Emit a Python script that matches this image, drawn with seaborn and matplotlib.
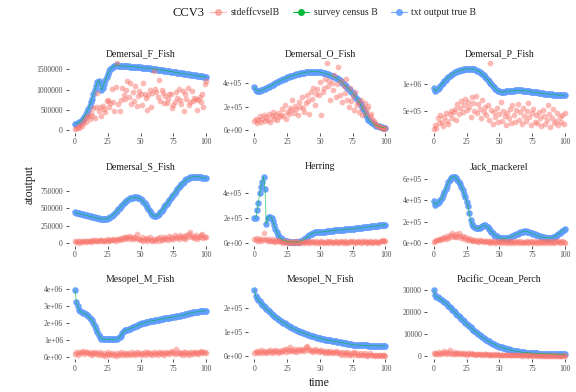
import numpy as np
import pandas as pd
import matplotlib
matplotlib.use("Agg")
import matplotlib.pyplot as plt
from matplotlib.lines import Line2D
import seaborn as sns

# ── Data (values in the panel's own unit) ───────────────────────────────────
time = np.arange(0, 101)

species = ["Demersal_F_Fish", "Demersal_O_Fish", "Demersal_P_Fish",
           "Demersal_S_Fish", "Herring", "Jack_mackerel",
           "Mesopel_M_Fish", "Mesopel_N_Fish", "Pacific_Ocean_Perch"]

unit = {"Demersal_F_Fish": 1e5, "Demersal_O_Fish": 1e4, "Demersal_P_Fish": 1e5,
        "Demersal_S_Fish": 1e4, "Herring": 1e4, "Jack_mackerel": 1e4,
        "Mesopel_M_Fish": 1e5, "Mesopel_N_Fish": 1e4, "Pacific_Ocean_Perch": 1e3}

# txt output true B (survey census B follows the same values)
true_f = [1.5, 1.6, 1.7, 1.9, 2.1, 2.4, 2.8, 3.3, 3.9, 4.5,
          5.2, 6.0, 6.9, 7.8, 8.8, 9.8, 10.8, 11.8, 12.2, 11.6,
          10.0, 10.4, 11.4, 12.4, 13.2, 13.9, 14.5, 15.0, 15.4, 15.7,
          15.9, 16.0, 16.0, 15.95, 15.9, 15.9, 15.85, 15.85, 15.8, 15.8,
          15.75, 15.75, 15.7, 15.7, 15.65, 15.65, 15.6, 15.6, 15.55, 15.5,
          15.5, 15.45, 15.4, 15.4, 15.35, 15.3, 15.3, 15.25, 15.2, 15.15,
          15.1, 15.05, 15.0, 14.95, 14.9, 14.85, 14.8, 14.75, 14.7, 14.65,
          14.6, 14.55, 14.5, 14.45, 14.4, 14.35, 14.3, 14.25, 14.2, 14.15,
          14.1, 14.05, 14.0, 13.95, 13.9, 13.85, 13.8, 13.75, 13.7, 13.65,
          13.6, 13.55, 13.5, 13.45, 13.4, 13.35, 13.3, 13.25, 13.2, 13.15,
          13.1]
true_o = [37, 34.5, 33.8, 33.6, 33.7, 34.0, 34.4, 34.9, 35.4, 35.9,
          36.5, 37.1, 37.7, 38.3, 38.9, 39.5, 40.1, 40.7, 41.3, 41.9,
          42.5, 43.0, 43.5, 44.0, 44.5, 45.0, 45.4, 45.8, 46.2, 46.6,
          47.0, 47.3, 47.6, 47.9, 48.2, 48.5, 48.7, 48.9, 49.1, 49.3,
          49.5, 49.6, 49.7, 49.8, 49.9, 50.0, 50.0, 49.9, 49.8, 49.7,
          49.5, 49.3, 49.0, 48.7, 48.4, 48.0, 47.6, 47.2, 46.8, 46.4,
          46.0, 45.4, 44.8, 44.1, 43.3, 42.5, 41.6, 40.6, 39.6, 38.6,
          37.5, 36.4, 35.2, 34.0, 32.8, 31.5, 30.1, 28.6, 27.1, 25.6,
          24.0, 22.2, 20.2, 18.0, 15.6, 13.2, 11.0, 9.2, 7.8, 6.8,
          6.0, 5.3, 4.7, 4.2, 3.8, 3.4, 3.1, 2.8, 2.5, 2.3,
          2.1]
true_p = [9.2, 8.7, 8.8, 9.0, 9.3, 9.6, 9.9, 10.2, 10.5, 10.8,
          11.0, 11.2, 11.4, 11.6, 11.8, 11.95, 12.1, 12.2, 12.3, 12.4,
          12.5, 12.55, 12.6, 12.65, 12.7, 12.75, 12.75, 12.8, 12.8, 12.75,
          12.7, 12.65, 12.55, 12.45, 12.35, 12.2, 12.05, 11.85, 11.6, 11.35,
          11.1, 10.8, 10.5, 10.2, 9.9, 9.6, 9.35, 9.1, 8.9, 8.7,
          8.6, 8.5, 8.5, 8.5, 8.55, 8.6, 8.6, 8.65, 8.7, 8.7,
          8.75, 8.75, 8.8, 8.8, 8.8, 8.8, 8.8, 8.8, 8.75, 8.75,
          8.7, 8.7, 8.65, 8.6, 8.55, 8.5, 8.5, 8.45, 8.4, 8.4,
          8.35, 8.3, 8.3, 8.25, 8.2, 8.2, 8.15, 8.1, 8.1, 8.05,
          8.05, 8.0, 8.0, 7.95, 7.95, 7.9, 7.9, 7.9, 7.85, 7.85,
          7.85]
true_s = [44, 43.5, 43, 42.5, 42, 41.5, 41, 40.5, 40, 39.5,
          39, 38.5, 38, 37.5, 37, 36.6, 36.2, 35.8, 35.4, 35.1,
          34.8, 34.6, 34.5, 34.6, 34.9, 35.5, 36.4, 37.6, 39.0, 40.5,
          42.2, 44.0, 46.0, 48.2, 50.5, 52.8, 55.0, 57.0, 58.8, 60.4,
          61.8, 63.0, 64.0, 64.8, 65.3, 65.6, 65.6, 65.4, 65.0, 64.2,
          63.0, 61.4, 59.4, 57.0, 54.4, 51.6, 48.6, 45.6, 42.8, 40.4,
          38.8, 38.2, 38.6, 39.8, 41.6, 43.8, 46.2, 48.8, 51.4, 54.0,
          56.6, 59.2, 61.8, 64.4, 67.0, 69.6, 72.2, 74.8, 77.4, 80.0,
          82.4, 84.6, 86.6, 88.4, 90.0, 91.4, 92.6, 93.6, 94.4, 95.0,
          95.4, 95.6, 95.6, 95.4, 95.1, 94.7, 94.3, 94.0, 93.8, 93.6,
          93.5]
true_h = [20, 20, 26, 32, 40, 45, 49, 53, 43, 15,
          20, 21, 21, 20, 18, 14.5, 11.5, 8.8, 6.6, 5.0,
          3.8, 3.0, 2.4, 2.0, 1.7, 1.4, 1.2, 1.0, 0.9, 0.8,
          0.8, 0.8, 0.9, 1.0, 1.2, 1.5, 1.9, 2.4, 3.0, 3.7,
          4.5, 5.3, 6.1, 6.9, 7.6, 8.2, 8.6, 8.8, 8.8, 8.8,
          8.8, 8.9, 9.0, 9.1, 9.2, 9.3, 9.5, 9.6, 9.8, 9.9,
          10.0, 10.1, 10.2, 10.3, 10.4, 10.5, 10.6, 10.7, 10.8, 10.9,
          11.0, 11.1, 11.2, 11.3, 11.4, 11.5, 11.6, 11.8, 11.9, 12.0,
          12.1, 12.2, 12.4, 12.5, 12.6, 12.8, 12.9, 13.0, 13.2, 13.3,
          13.4, 13.6, 13.7, 13.8, 14.0, 14.1, 14.2, 14.4, 14.5, 14.6,
          14.7]
true_j = [39.6, 36, 36.5, 37.5, 39, 40.5, 42.5, 45, 48, 51,
          54, 57, 59.5, 61.3, 62.3, 62.5, 62, 61, 59.5, 57.6,
          55.4, 52.8, 49.8, 46.5, 42.8, 39, 34.5, 28, 22, 18,
          16, 15, 14, 13.8, 14, 14.6, 15.4, 16.2, 16.6, 16.5,
          16, 15, 13.6, 12, 10.5, 9.2, 8, 7, 6.2, 5.6,
          5.1, 4.8, 4.6, 4.5, 4.5, 4.6, 4.8, 5.1, 5.5, 6.0,
          6.5, 7.1, 7.7, 8.3, 8.9, 9.5, 10.0, 10.4, 10.8, 11.0,
          11.0, 10.8, 10.5, 10.1, 9.6, 9.1, 8.6, 8.1, 7.6, 7.1,
          6.7, 6.3, 5.9, 5.6, 5.3, 5.1, 4.9, 4.8, 4.8, 4.9,
          5.1, 5.5, 6.1, 6.8, 7.6, 8.5, 9.5, 10.5, 11.5, 12.4,
          13.2]
true_m = [39.4, 32, 29.8, 27.6, 26.8, 26.2, 25.8, 25.5, 25.3, 24.8,
          23.7, 23.0, 22.3, 21.4, 20.0, 17.8, 16.0, 14.5, 13.0, 11.5,
          10.6, 10.3, 10.2, 10.2, 10.2, 10.2, 10.2, 10.2, 10.2, 10.2,
          10.2, 10.3, 10.5, 10.9, 11.5, 12.4, 13.7, 14.9, 15.4, 15.7,
          15.9, 16.2, 16.5, 16.8, 17.2, 17.6, 17.9, 18.3, 18.6, 19.0,
          19.4, 19.6, 19.8, 20.0, 20.2, 20.4, 20.6, 20.8, 21.0, 21.1,
          21.2, 21.4, 21.5, 21.7, 21.8, 22.0, 22.1, 22.3, 22.5, 22.6,
          22.8, 22.9, 23.0, 23.1, 23.2, 23.3, 23.5, 23.7, 23.9, 24.0,
          24.2, 24.4, 24.5, 24.7, 24.9, 25.1, 25.3, 25.5, 25.7, 25.9,
          26.1, 26.2, 26.3, 26.4, 26.5, 26.6, 26.7, 26.8, 26.9, 27.0,
          27.1]
true_n = [27.6, 24.8, 24.1, 23.4, 22.7, 22.0, 21.4, 20.8, 20.2, 19.6,
          19.1, 18.6, 18.1, 17.6, 17.1, 16.7, 16.2, 15.8, 15.4, 15.0,
          14.6, 14.2, 13.9, 13.5, 13.2, 12.8, 12.5, 12.2, 11.9, 11.6,
          11.3, 11.0, 10.8, 10.5, 10.3, 10.0, 9.8, 9.6, 9.4, 9.2,
          9.0, 8.8, 8.6, 8.4, 8.2, 8.1, 7.9, 7.8, 7.6, 7.5,
          7.3, 7.2, 7.1, 6.9, 6.8, 6.7, 6.6, 6.5, 6.4, 6.3,
          6.2, 6.1, 6.0, 5.9, 5.8, 5.7, 5.6, 5.5, 5.4, 5.3,
          5.2, 5.1, 5.0, 4.9, 4.8, 4.7, 4.6, 4.5, 4.5, 4.5,
          4.4, 4.4, 4.4, 4.3, 4.3, 4.3, 4.3, 4.2, 4.2, 4.2,
          4.2, 4.2, 4.2, 4.2, 4.1, 4.1, 4.1, 4.1, 4.1, 4.1,
          4.1]
true_pop = [30.3, 27.7, 27.2, 26.8, 26.4, 25.9, 25.5, 25.0, 24.6, 24.1,
            23.6, 23.0, 22.4, 21.8, 21.2, 20.6, 20.0, 19.4, 18.8, 18.2,
            17.6, 17.0, 16.4, 15.8, 15.2, 14.7, 14.1, 13.5, 13.0, 12.4,
            11.9, 11.4, 10.9, 10.4, 9.9, 9.4, 9.0, 8.5, 8.1, 7.7,
            7.3, 6.9, 6.6, 6.2, 5.9, 5.6, 5.3, 5.0, 4.7, 4.5,
            4.2, 4.0, 3.8, 3.6, 3.4, 3.2, 3.0, 2.9, 2.7, 2.6,
            2.4, 2.3, 2.2, 2.1, 2.0, 1.9, 1.8, 1.7, 1.6, 1.55,
            1.5, 1.45, 1.4, 1.35, 1.3, 1.25, 1.2, 1.15, 1.1, 1.05,
            1.0, 1.0, 0.95, 0.95, 0.9, 0.9, 0.9, 0.85, 0.85, 0.85,
            0.8, 0.8, 0.8, 0.8, 0.75, 0.75, 0.75, 0.75, 0.7, 0.7,
            0.7]

# stdeffcvselB
sd_f = [0.2, 0.5, 0.8, 0.6, 1.2, 1.0, 1.8, 2.5, 2.0, 3.2,
        3.5, 2.8, 4.2, 3.6, 5.5, 3.0, 5.8, 9.2, 4.8, 5.6,
        3.4, 6.0, 5.2, 4.4, 7.2, 7.5, 5.6, 6.8, 10.2, 7.0,
        4.8, 10.6, 16.5, 6.5, 4.6, 7.4, 10.5, 8.6, 7.6, 10.0,
        12.0, 8.2, 11.6, 6.4, 9.4, 7.2, 11.0, 6.0, 8.4, 9.6,
        8.8, 6.2, 11.6, 9.0, 8.0, 4.9, 8.6, 10.0, 5.6, 9.2,
        14.6, 10.2, 9.4, 8.2, 12.4, 7.2, 10.0, 9.2, 6.6, 8.4,
        6.8, 7.6, 9.0, 8.8, 5.4, 6.2, 7.0, 9.4, 8.0, 10.2,
        7.4, 6.4, 9.6, 4.8, 8.8, 7.6, 10.4, 6.2, 7.0, 9.6,
        7.2, 8.0, 7.8, 5.0, 7.4, 8.2, 7.0, 9.0, 5.6, 11.4,
        12.0]
sd_o = [8, 10, 6, 9, 12, 7, 10, 13, 8, 11,
        9, 14, 7, 12, 16, 10, 13, 9, 15, 11,
        13, 18, 12, 22, 10, 16, 14, 19, 17, 26,
        15, 21, 18, 13, 24, 20, 28, 19, 16, 23,
        30, 25, 14, 33, 27, 36, 22, 31, 35, 30,
        41, 13, 33, 36, 44, 57, 38, 42, 26, 40,
        34, 47, 28, 39, 54, 30, 42, 24, 38, 32,
        44, 26, 20, 36, 25, 29, 17, 33, 22, 24,
        16, 26, 13, 20, 23, 15, 18, 21, 12, 14,
        10, 8, 6, 5, 4, 4, 3, 2, 2, 1,
        2]
sd_p = [1.6, 2.4, 1.9, 3.6, 2.8, 4.2, 3.0, 2.2, 3.8, 4.6,
        3.2, 2.6, 4.4, 5.0, 3.6, 4.8, 5.4, 3.4, 6.2, 4.4,
        5.6, 6.8, 4.8, 6.0, 7.2, 5.2, 6.6, 5.8, 3.8, 7.6,
        6.4, 5.0, 7.8, 4.6, 6.2, 5.4, 3.6, 7.0, 4.8, 5.8,
        4.2, 6.0, 3.4, 13.8, 5.2, 2.6, 4.8, 3.8, 5.6, 3.0,
        4.4, 6.6, 3.2, 5.0, 4.0, 2.4, 4.6, 3.6, 5.4, 2.8,
        6.0, 4.2, 3.0, 5.2, 6.2, 3.4, 4.8, 2.6, 5.6, 4.0,
        3.2, 5.0, 6.4, 3.8, 2.4, 4.6, 5.4, 3.0, 4.2, 2.8,
        4.8, 3.6, 2.2, 5.2, 4.0, 2.6, 3.4, 6.0, 4.4, 2.0,
        3.6, 5.4, 2.8, 3.2, 4.6, 2.4, 3.8, 3.0, 4.2, 2.6,
        4.6]
sd_s = [2, 1, 3, 0.5, 2, 1.5, 3, 2, 1, 2.5,
        3, 2, 1.5, 3.5, 2, 4, 2.5, 3, 2, 3.5,
        4, 3, 2.5, 4.5, 3, 5, 2, 3.5, 4, 5.5,
        4, 3, 5, 6, 4.5, 7, 5.5, 8, 6, 9,
        7, 10, 6, 8, 5, 9, 7, 13, 6, 5,
        4, 8, 3, 6, 7, 2.5, 5, 9, 4, 3,
        6, 2, 5, 7, 3, 8, 4, 6, 9, 5,
        7, 4, 10, 6, 8, 5, 11, 7, 9, 6,
        12, 8, 7, 10, 6, 11, 9, 13, 16, 8,
        10, 7, 12, 6, 9, 8, 11, 13, 7, 9,
        8]
sd_h = [3, 2.5, 4, 2, 3.5, 2, 3, 8, 2.5, 3,
        2, 3.5, 2, 1.5, 3, 2, 1, 2.5, 1.5, 2,
        1, 1.5, 0.5, 2, 1, 0.5, 1.5, 1, 0.5, 1,
        0.5, 1, 1.5, 0.5, 1, 0.5, 1, 1.5, 0.5, 1,
        1, 1.5, 0.5, 1, 2, 1, 0.5, 1.5, 1, 0.5,
        1, 1.5, 1, 0.5, 1, 2, 0.5, 1, 1.5, 1,
        0.5, 1, 1.5, 1, 0.5, 1, 2, 1, 0.5, 1.5,
        1, 0.5, 1, 1.5, 1, 2, 1, 0.5, 1, 1.5,
        1, 0.5, 1.5, 1, 2, 1, 0.5, 1, 1.5, 1,
        0.5, 1, 1.5, 1, 0.5, 1, 2, 1.5, 2.5, 2,
        1.5]
sd_j = [1, 2, 3, 2.5, 4, 3, 5, 4, 6, 3.5,
        7, 5, 8, 6, 9, 7, 5.5, 8.5, 6, 9,
        7, 5, 6.5, 4, 5.5, 3, 4.5, 2.5, 3.5, 2,
        2.5, 1.5, 3, 2, 1, 2.5, 1.5, 2, 1, 1.5,
        2, 1, 1.5, 0.5, 2, 1, 1.5, 0.5, 1, 2,
        1, 0.5, 1.5, 1, 2, 0.5, 1, 1.5, 0.5, 1,
        1.5, 0.5, 1, 2, 1, 0.5, 1.5, 1, 0.5, 1,
        1, 1.5, 0.5, 1, 2, 1, 0.5, 1.5, 1, 0.5,
        1, 2, 0.5, 1, 1.5, 0.5, 1, 2, 1, 0.5,
        1.5, 1, 0.5, 2, 1, 1.5, 0.5, 1, 2, 1,
        0.5]
sd_m = [1.5, 2.5, 1, 3, 2, 2.5, 3.5, 1.5, 2.5, 3,
        2, 1.5, 2.5, 1, 2, 3, 1.5, 2, 1, 2.5,
        1.5, 1, 2, 0.5, 1.5, 2.5, 1, 1.5, 2, 1,
        1.5, 0.5, 2, 1, 1.5, 2.5, 1, 2, 1.5, 1,
        2, 1.5, 1, 2.5, 1.5, 2, 1, 2.5, 1.5, 2,
        1, 2, 1.5, 2.5, 1, 2, 3, 1.5, 2, 1,
        2.5, 1.5, 2, 1, 3, 2, 1.5, 2.5, 1, 2,
        3, 2, 1.5, 2.5, 3.5, 2, 1.5, 4.5, 2, 2.5,
        1.5, 2, 1, 2.5, 3, 1.5, 2, 1, 2.5, 2,
        1.5, 2.5, 3, 2, 1.5, 2.5, 3.5, 2, 3, 2.5,
        2]
sd_n = [1, 1.5, 2, 1, 1.5, 2.5, 1, 2, 1.5, 1,
        2, 1.5, 2.5, 1, 2, 1.5, 2.5, 2, 1, 2,
        1.5, 2.5, 2, 3, 1.5, 3, 2, 3.5, 2, 2.5,
        2, 3, 1.5, 2.5, 3, 2, 2.5, 3, 2, 3.5,
        4, 2.5, 3, 2, 2.5, 1.5, 3, 2, 2.5, 1.5,
        2, 2.5, 1.5, 2, 1, 2, 1.5, 1, 2, 1.5,
        1, 1.5, 2, 1, 1.5, 1, 0.5, 1.5, 1, 0.5,
        1, 1.5, 0.5, 1, 0.5, 1, 1.5, 0.5, 1, 0.5,
        0.5, 1, 0.5, 0.5, 1, 0.5, 0, 0.5, 1, 0.5,
        0.5, 0, 0.5, 0.5, 0, 0.5, 0.5, 0, 0.5, 0.5,
        0]
sd_pop = [1.2, 0.8, 1.5, 1.0, 1.8, 0.6, 1.4, 1.1, 2.0, 0.9,
          1.6, 1.2, 2.8, 0.8, 1.5, 1.0, 1.9, 0.7, 1.3, 1.1,
          0.9, 1.4, 0.6, 1.2, 1.0, 0.5, 1.3, 0.8, 1.1, 0.6,
          1.0, 0.7, 0.5, 0.9, 0.6, 0.8, 0.4, 0.7, 0.5, 0.8,
          0.6, 0.4, 0.7, 0.5, 0.3, 0.6, 0.5, 0.4, 0.6, 0.3,
          0.5, 0.4, 0.3, 0.5, 0.4, 0.2, 0.4, 0.3, 0.5, 0.2,
          0.3, 0.4, 0.2, 0.3, 0.4, 0.2, 0.3, 0.1, 0.3, 0.2,
          0.3, 0.2, 0.1, 0.3, 0.2, 0.2, 0.1, 0.3, 0.2, 0.1,
          0.2, 0.1, 0.2, 0.1, 0.2, 0.1, 0.1, 0.2, 0.1, 0.1,
          0.2, 0.1, 0.1, 0.2, 0.1, 0.1, 0.0, 0.1, 0.1, 0.2,
          0.1]

true_b = dict(zip(species, [true_f, true_o, true_p, true_s, true_h,
                            true_j, true_m, true_n, true_pop]))
stdef_b = dict(zip(species, [sd_f, sd_o, sd_p, sd_s, sd_h,
                             sd_j, sd_m, sd_n, sd_pop]))

yticks = {"Demersal_F_Fish": [0, 500000, 1000000, 1500000],
          "Demersal_O_Fish": [0, 2e5, 4e5],
          "Demersal_P_Fish": [5e5, 1e6],
          "Demersal_S_Fish": [0, 250000, 500000, 750000],
          "Herring": [0, 2e5, 4e5],
          "Jack_mackerel": [0, 2e5, 4e5, 6e5],
          "Mesopel_M_Fish": [0, 1e6, 2e6, 3e6, 4e6],
          "Mesopel_N_Fish": [0, 1e5, 2e5],
          "Pacific_Ocean_Perch": [0, 10000, 20000, 30000]}
plain_labels = {"Demersal_F_Fish", "Demersal_S_Fish", "Pacific_Ocean_Perch"}

# ── Long table ──────────────────────────────────────────────────────────────
frames = []
for sp in species:
    u = unit[sp]
    tb = np.array(true_b[sp]) * u
    frames.append(pd.DataFrame({"species": sp, "time": time, "value": tb,
                                "series": "txt output true B"}))
    frames.append(pd.DataFrame({"species": sp, "time": time, "value": tb,
                                "series": "survey census B"}))
    frames.append(pd.DataFrame({"species": sp, "time": time,
                                "value": np.array(stdef_b[sp]) * u,
                                "series": "stdeffcvselB"}))
df = pd.concat(frames, ignore_index=True)

RED, GREEN, BLUE = "#F8766D", "#00BA38", "#619CFF"

# ── Plot ────────────────────────────────────────────────────────────────────
sns.set_theme(style="white")
plt.rcParams["font.family"] = ["Liberation Serif", "DejaVu Serif"]

fig, axes = plt.subplots(3, 3, figsize=(5.76, 3.92), dpi=100)
fig.subplots_adjust(left=0.119, right=0.992, top=0.847, bottom=0.084,
                    wspace=0.245, hspace=0.56)

for ax, sp in zip(axes.flat, species):
    sub = df[df["species"] == sp]
    sns.lineplot(data=sub[sub["series"] == "survey census B"], x="time", y="value",
                 color=GREEN, linewidth=0.5, alpha=0.8, ax=ax, legend=False)
    sns.scatterplot(data=sub[sub["series"] == "txt output true B"], x="time", y="value",
                    color=BLUE, s=22, alpha=0.92, linewidth=0, ax=ax, legend=False)
    sns.scatterplot(data=sub[sub["series"] == "stdeffcvselB"], x="time", y="value",
                    color=RED, s=17, alpha=0.5, linewidth=0, ax=ax, legend=False)

    ax.set_xticks([0, 25, 50, 75, 100])
    ax.set_yticks(yticks[sp])
    if sp in plain_labels:
        ax.set_yticklabels([f"{int(v)}" for v in yticks[sp]])
    else:
        ax.set_yticklabels([f"{v:.0e}" for v in yticks[sp]])
    ax.set_xlabel("")
    ax.set_ylabel("")
    ax.set_title(sp, fontsize=7, color="#1A1A1A", pad=3)
    sns.despine(ax=ax, left=True, bottom=True)
    ax.tick_params(axis="both", which="major", length=2.5, width=0.6,
                   color="#333333", labelcolor="#4D4D4D", labelsize=5.5, pad=1.5,
                   left=True, bottom=True)

fig.text(0.555, 0.023, "time", ha="center", va="center", fontsize=8.5, color="#1A1A1A")
fig.text(0.052, 0.53, "atoutput", ha="center", va="center", rotation=90,
         fontsize=8.5, color="#1A1A1A")

handles = [Line2D([], [], color=RED, alpha=0.5, marker="o", markersize=4, lw=0.8),
           Line2D([], [], color=GREEN, marker="o", markersize=4, lw=0.8),
           Line2D([], [], color=BLUE, alpha=0.85, marker="o", markersize=4, lw=0.8)]
labels = ["stdeffcvselB", "survey census B", "txt output true B"]
fig.text(0.355, 0.967, "CCV3", ha="right", va="center", fontsize=9, color="#1A1A1A")
fig.legend(handles, labels, loc="center left", bbox_to_anchor=(0.358, 0.967),
           ncol=3, frameon=False, fontsize=7, handlelength=1.6, handletextpad=0.5,
           columnspacing=1.4, borderaxespad=0)

fig.savefig("out.png", dpi=100)
